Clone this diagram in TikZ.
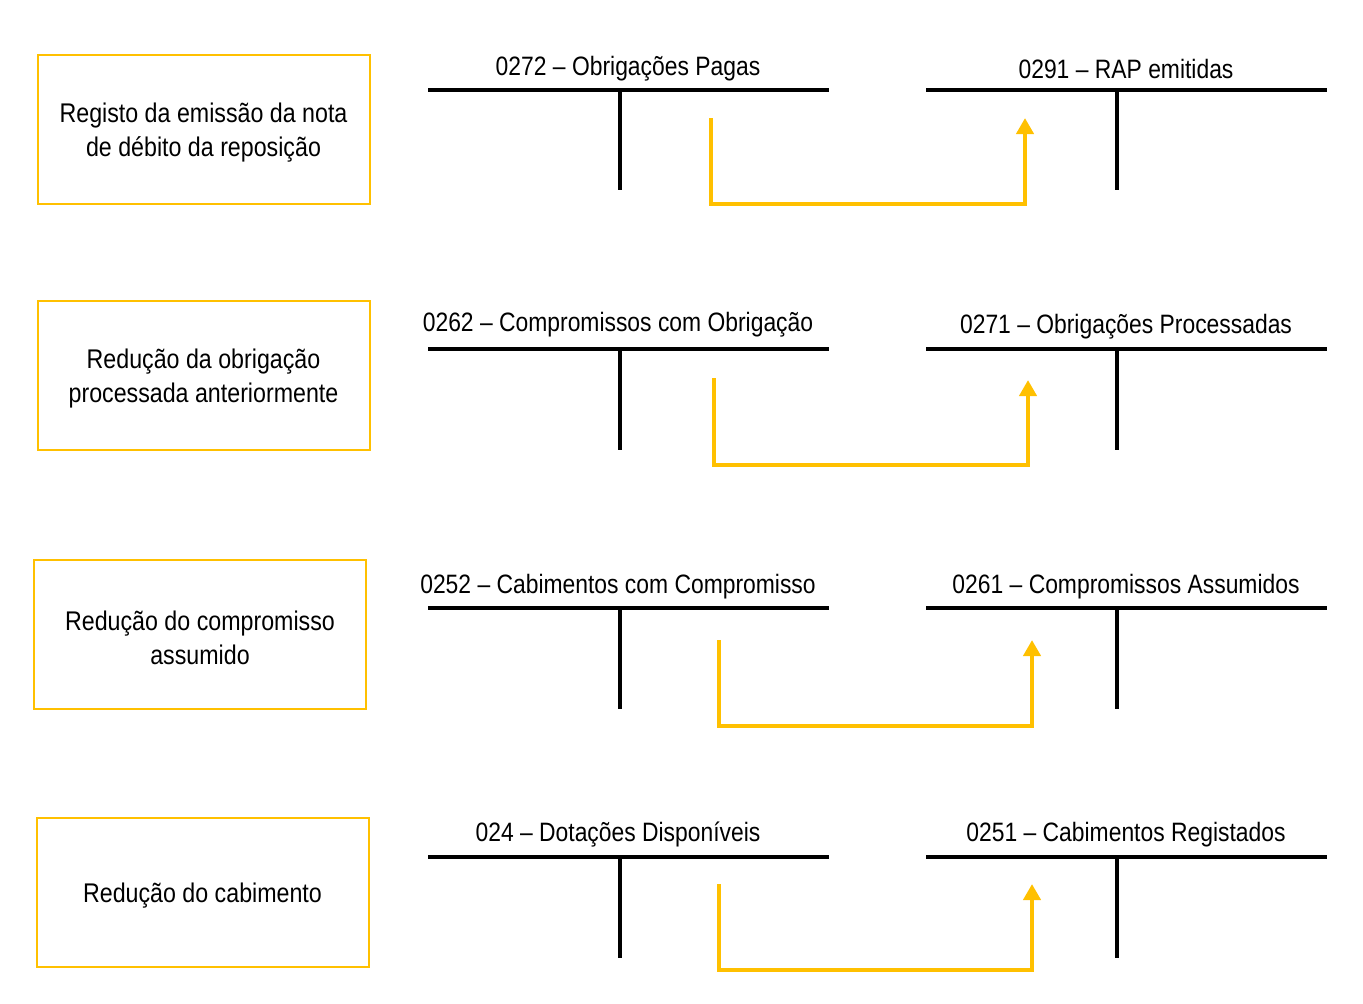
\documentclass[tikz,border=0pt]{standalone}
\usepackage{fontspec}
\setmainfont{Liberation Sans}[FakeStretch=0.86]
\usetikzlibrary{arrows.meta}
\definecolor{amarelo}{HTML}{FFC000}
\newcommand{\texto}[1]{\parbox{160pt}{\centering\vspace*{3.5pt}#1}}

\begin{document}
\begin{tikzpicture}[x=0.5pt,y=-0.5pt,
  caixa/.style={draw=amarelo,line width=1pt,minimum width=166pt,minimum height=74.5pt,align=center,inner sep=0pt,font=\fontsize{13.5}{17}\selectfont},
  titulo/.style={inner sep=0pt,font=\fontsize{13.3}{17}\selectfont},
  conta/.style={line width=2pt,black},
  seta/.style={draw=amarelo,line width=2.2pt,-{Triangle[width=8.5pt,length=8pt]}}]
\useasboundingbox (0,0) rectangle (1363,1003);

% caixas de descricao
\node[caixa] (c1) at (203.5,129.5) {\texto{Registo da emissão da nota\\de débito da reposição}};
\node[caixa] (c2) at (203.5,375) {\texto{Redução da obrigação\\processada anteriormente}};
\node[caixa] (c3) at (200,634.5) {\texto{Redução do compromisso\\assumido}};
\node[caixa] (c4) at (202.5,892) {\texto{Redução do cabimento}};

% titulos das contas
\node[titulo] (t1e) at (628,69) {0272 -- Obrigações Pagas};
\node[titulo] (t1d) at (1126,69) {0291 -- RAP emitidas};
\node[titulo] (t2e) at (618,325) {0262 -- Compromissos com Obrigação};
\node[titulo] (t2d) at (1126,327) {0271 -- Obrigações Processadas};
\node[titulo] (t3e) at (618,587) {0252 -- Cabimentos com Compromisso};
\node[titulo] (t3d) at (1126,587) {0261 -- Compromissos Assumidos};
\node[titulo] (t4e) at (618,835) {024 -- Dotações Disponíveis};
\node[titulo] (t4d) at (1126,835) {0251 -- Cabimentos Registados};

% contas em T
\draw[conta] (428,90) -- (829,90) (620,90) -- (620,190);
\draw[conta] (926,90) -- (1327,90) (1117,90) -- (1117,190);
\draw[conta] (428,349) -- (829,349) (620,349) -- (620,450);
\draw[conta] (926,349) -- (1327,349) (1117,349) -- (1117,450);
\draw[conta] (428,608) -- (829,608) (620,608) -- (620,709);
\draw[conta] (926,608) -- (1327,608) (1117,608) -- (1117,709);
\draw[conta] (428,857) -- (829,857) (620,857) -- (620,958);
\draw[conta] (926,857) -- (1327,857) (1117,857) -- (1117,958);

% setas
\coordinate (s1) at (711,118); \coordinate (e1) at (1025,118);
\coordinate (s2) at (714,378); \coordinate (e2) at (1028,380);
\coordinate (s3) at (719,640); \coordinate (e3) at (1032,640);
\coordinate (s4) at (719,884); \coordinate (e4) at (1032,884);
\draw[seta] (s1) -- (711,204) -- (1025,204) -- (e1);
\draw[seta] (s2) -- (714,465) -- (1028,465) -- (e2);
\draw[seta] (s3) -- (719,726) -- (1032,726) -- (e3);
\draw[seta] (s4) -- (719,970) -- (1032,970) -- (e4);
\end{tikzpicture}
\end{document}
